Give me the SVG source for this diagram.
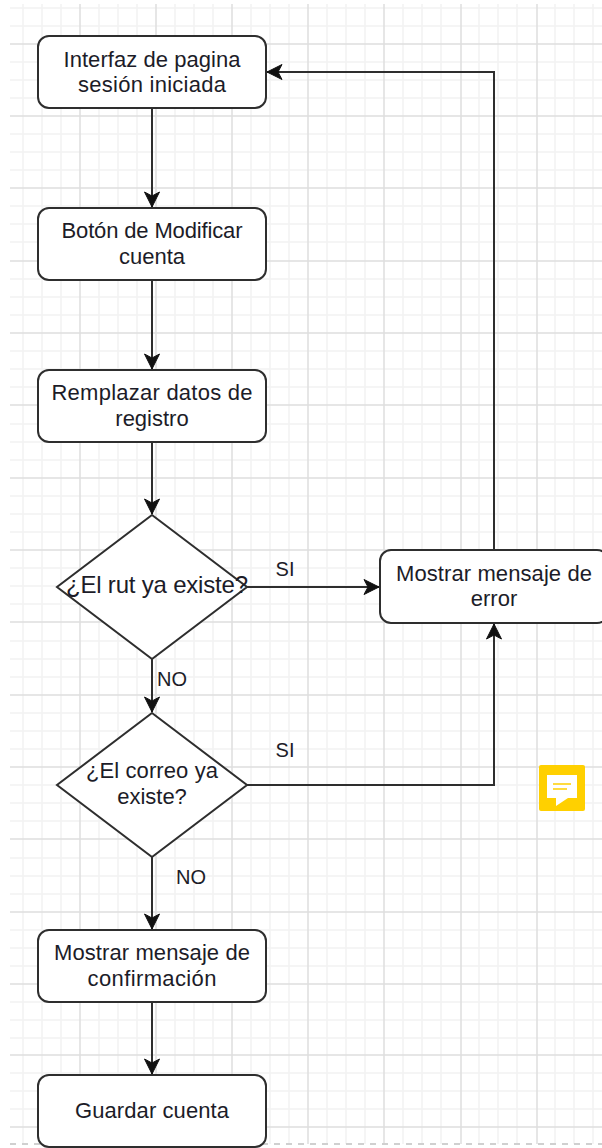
<svg xmlns="http://www.w3.org/2000/svg" width="602" height="1148" viewBox="0 0 602 1148">
<style>
.n{fill:#fff;stroke:#2e2e2e;stroke-width:2}
.t{font-family:"Liberation Sans",Arial,sans-serif;font-size:22px;fill:#1c1c28;text-anchor:middle}
.l{font-size:20px}
.c{fill:none;stroke:#2e2e2e;stroke-width:2}
.mi{fill:none;stroke:#f2f2f2;stroke-width:1.5}
.ma{fill:none;stroke:#dedede;stroke-width:1.5}
</style>
<defs>
<marker id="a" markerUnits="userSpaceOnUse" markerWidth="18" markerHeight="18" refX="16" refY="9" orient="auto">
<path d="M1 1.5 L16 9 L1 16.5 L5 9 Z" fill="#111" stroke="#111"/>
</marker>
</defs>
<rect width="602" height="1148" fill="#fff"/>
<g id="grid">
<path class="mi" d="M23 4V1144M42 4V1144M61 4V1144M99 4V1144M118 4V1144M137 4V1144M175 4V1144M194 4V1144M213 4V1144M251 4V1144M270 4V1144M289 4V1144M327 4V1144M346 4V1144M365 4V1144M403 4V1144M422 4V1144M441 4V1144M479 4V1144M498 4V1144M517 4V1144M555 4V1144M574 4V1144M593 4V1144"/>
<path class="mi" d="M10 8H602M10 26H602M10 62H602M10 80H602M10 98H602M10 134H602M10 152H602M10 170H602M10 206H602M10 224H602M10 242H602M10 279H602M10 297H602M10 315H602M10 351H602M10 369H602M10 387H602M10 424H602M10 442H602M10 460H602M10 496H602M10 514H602M10 532H602M10 568H602M10 586H602M10 604H602M10 641H602M10 659H602M10 677H602M10 713H602M10 731H602M10 749H602M10 785H602M10 803H602M10 821H602M10 858H602M10 876H602M10 894H602M10 930H602M10 948H602M10 966H602M10 1002H602M10 1020H602M10 1038H602M10 1073H602M10 1091H602M10 1109H602"/>
<path class="ma" d="M80 4V1144M156 4V1144M232 4V1144M308 4V1144M384 4V1144M461 4V1144M537 4V1144"/>
<path class="ma" d="M10 44H602M10 116H602M10 188H602M10 261H602M10 333H602M10 405H602M10 478H602M10 550H602M10 622H602M10 695H602M10 767H602M10 839H602M10 912H602M10 984H602M10 1055H602M10 1127H602"/>
<path d="M10 1144H602" fill="none" stroke="#d0d0d0" stroke-width="2" stroke-dasharray="6 6"/>
</g>
<g id="connectors">
<path class="c" marker-end="url(#a)" d="M152 108V207"/>
<path class="c" marker-end="url(#a)" d="M152 280V369"/>
<path class="c" marker-end="url(#a)" d="M152 442V514"/>
<path class="c" marker-end="url(#a)" d="M152 659V712"/>
<path class="c" marker-end="url(#a)" d="M152 857V929"/>
<path class="c" marker-end="url(#a)" d="M152 1002V1074"/>
<path class="c" marker-end="url(#a)" d="M247 587H379"/>
<path class="c" marker-end="url(#a)" d="M247 785H494V624"/>
<path class="c" marker-end="url(#a)" d="M494 550V72H267"/>
</g>
<g id="n1"><rect class="n" x="38" y="36" width="228" height="72" rx="11"/><text class="t" x="152" y="67" textLength="177">Interfaz de pagina</text><text class="t" x="152" y="92" textLength="148">sesión iniciada</text></g>
<g id="n2"><rect class="n" x="38" y="208" width="228" height="72" rx="11"/><text class="t" x="152" y="238" textLength="181">Botón de Modificar</text><text class="t" x="152" y="264">cuenta</text></g>
<g id="n3"><rect class="n" x="38" y="370" width="228" height="72" rx="11"/><text class="t" x="152" y="400" textLength="201">Remplazar datos de</text><text class="t" x="152" y="426">registro</text></g>
<g id="d1"><path class="n" d="M152 515L247 587L152 659L57 587Z"/><text class="t" x="157" y="593" font-size="24" style="font-size:24px" textLength="182">¿El rut ya existe?</text></g>
<g id="d2"><path class="n" d="M152 713L247 785L152 857L57 785Z"/><text class="t" x="152" y="778" textLength="132">¿El correo ya</text><text class="t" x="152" y="804">existe?</text></g>
<g id="n4"><rect class="n" x="380" y="550" width="228" height="73" rx="11"/><text class="t" x="494" y="581" textLength="196">Mostrar mensaje de</text><text class="t" x="494" y="606">error</text></g>
<g id="n5"><rect class="n" x="38" y="930" width="228" height="72" rx="11"/><text class="t" x="152" y="960" textLength="196">Mostrar mensaje de</text><text class="t" x="152" y="986" textLength="129">confirmación</text></g>
<g id="n6"><rect class="n" x="38" y="1075" width="228" height="72" rx="11"/><text class="t" x="152" y="1118" textLength="154">Guardar cuenta</text></g>
<g id="labels">
<text class="t l" x="285" y="576">SI</text>
<text class="t l" x="285" y="757">SI</text>
<text class="t l" x="172" y="686">NO</text>
<text class="t l" x="191" y="884">NO</text>
</g>
<g id="note">
<rect x="539" y="765" width="46" height="46" rx="2" fill="#ffd000"/>
<path d="M547 775H577V798H568L556 806V798H547Z" fill="#fff"/>
<path d="M553 784H571M553 789H567" fill="none" stroke="#ffd000" stroke-width="1.5"/>
</g>
</svg>
